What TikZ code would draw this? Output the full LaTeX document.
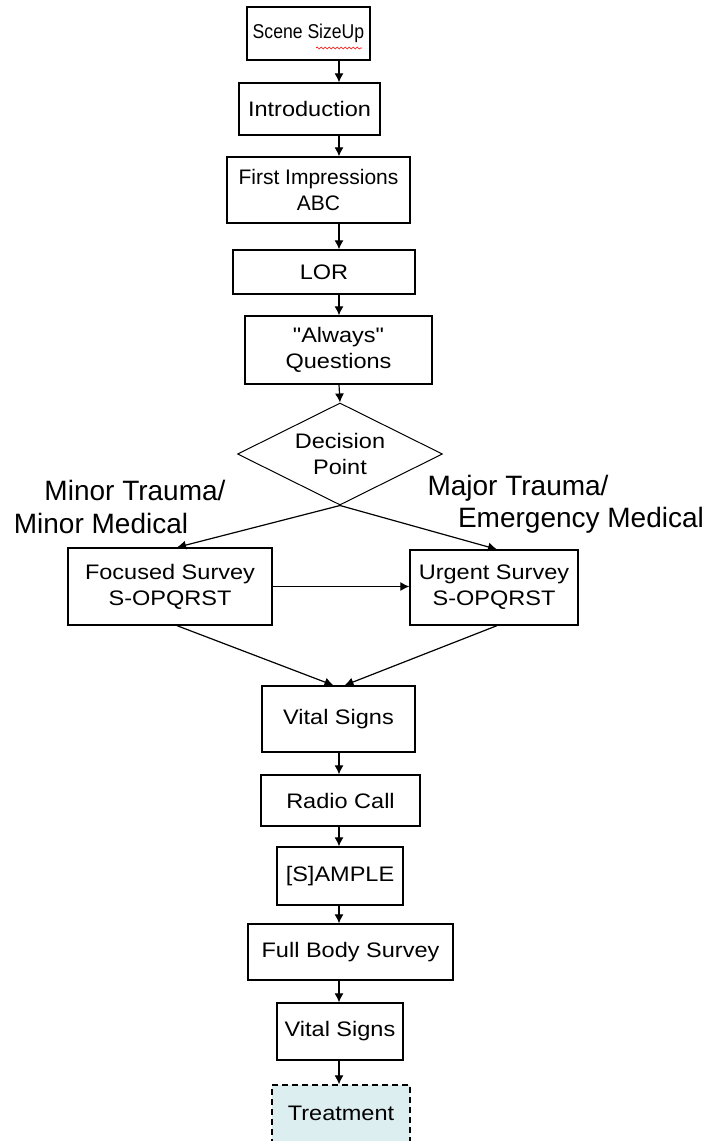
\documentclass[tikz,border=0pt]{standalone}
\usepackage{fontspec}
\setmainfont{Liberation Sans}
\newfontfamily\boxfont[FakeStretch=1.12]{Liberation Sans}
\newfontfamily\boxfontc[FakeStretch=0.88]{Liberation Sans}
\usetikzlibrary{arrows.meta,shapes.geometric,calc,decorations.pathmorphing}
\begin{document}
\begin{tikzpicture}[x=1pt,y=-1pt,
  box/.style={draw,line width=1.3pt,inner sep=0pt,align=center,font=\boxfont\fontsize{21}{26}\selectfont},
  lab/.style={inner sep=0pt,font=\fontsize{28}{32}\selectfont},
  arr/.style={line width=1.2pt,-{Latex[length=9pt,width=9pt]}}]
\useasboundingbox (0,0) rectangle (721,1141);
\clip (0,0) rectangle (721,1141);
\coordinate (ax) at (339,0);
\node[box,font=\boxfontc\fontsize{20}{24}\selectfont,minimum width=123pt,minimum height=53pt] (s1) at (308.5,33.5) {Scene SizeUp};
\node[box,minimum width=141pt,minimum height=52pt] (s2) at (309.5,109) {Introduction};
\node[box,font=\fontsize{21}{26}\selectfont,minimum width=183pt,minimum height=66pt] (s3) at (318.5,190) {First Impressions\\ABC};
\node[box,minimum width=182pt,minimum height=44pt] (s4) at (324,272) {LOR};
\node[box,minimum width=187pt,minimum height=68pt] (s5) at (338.5,350) {{\char34}Always{\char34}\\Questions};
\node[box,shape=diamond,aspect=2,line width=1pt,minimum width=205pt,minimum height=102pt] (d) at (340,454) {Decision\\Point};
\node[box,minimum width=204pt,minimum height=77pt] (f) at (170,586.5) {Focused Survey\\S-OPQRST};
\node[box,minimum width=168pt,minimum height=75pt] (u) at (494,587.5) {Urgent Survey\\S-OPQRST};
\node[box,minimum width=153pt,minimum height=66pt] (v1) at (338.5,719) {Vital Signs};
\node[box,minimum width=159pt,minimum height=51pt] (r) at (340.5,800.5) {Radio Call};
\node[box,minimum width=126pt,minimum height=58pt] (sa) at (340,876) {[S]AMPLE};
\node[box,minimum width=205pt,minimum height=56pt] (fb) at (350.5,952) {Full Body Survey};
\node[box,minimum width=126pt,minimum height=57pt] (v2) at (340,1031.5) {Vital Signs};
\node[box,dash pattern=on 6pt off 4pt,fill={rgb,255:red,221;green,238;blue,240},minimum width=138pt,minimum height=70pt] (t) at (341,1120) {};
\node[font=\boxfont\fontsize{21}{26}\selectfont,inner sep=0pt] (tt) at (341,1113) {Treatment};
\node[lab] (l1) at (135,490) {Minor Trauma/};
\node[lab] (l2) at (101,523) {Minor Medical};
\node[lab] (l3) at (518,488) {Major Trauma/};
\node[lab] (l4) at (581,520) {Emergency Medical};
\draw[red,line width=0.6pt,decorate,decoration={snake,amplitude=1pt,segment length=4pt}] (316,48) coordinate (sq1) -- (362,48) coordinate (sq2);
\draw[arr] (s1.south -| ax) -- (s2.north -| ax);
\draw[arr] (s2.south -| ax) -- (s3.north -| ax);
\draw[arr] (s3.south -| ax) -- (s4.north -| ax);
\draw[arr] (s4.south -| ax) -- (s5.north -| ax);
\draw[arr] (s5.south -| ax) -- (d.north);
\draw[arr] (d.south) -- ($(f.north)+(7,0)$);
\draw[arr] (d.south) -- ($(u.north)+(3,0)$);
\draw[arr] (f.east) -- (u.west |- f.east);
\draw[arr] ($(f.south)+(7,0)$) -- ($(v1.north)+(-5,0)$);
\draw[arr] ($(u.south)+(3,0)$) -- ($(v1.north)+(6,0)$);
\draw[arr] (v1.south -| ax) -- (r.north -| ax);
\draw[arr] (r.south -| ax) -- (sa.north -| ax);
\draw[arr] (sa.south -| ax) -- (fb.north -| ax);
\draw[arr] (fb.south -| ax) -- (v2.north -| ax);
\draw[arr] (v2.south -| ax) -- (t.north -| ax);
\end{tikzpicture}
\end{document}
